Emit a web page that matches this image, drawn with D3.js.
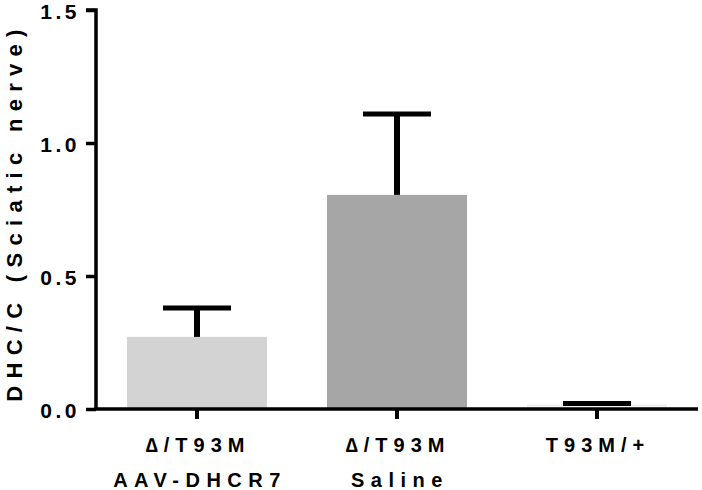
<!DOCTYPE html>
<html>
<head>
<meta charset="utf-8">
<script src="https://cdn.jsdelivr.net/npm/d3@7"></script>
<style>
  body { margin: 0; background: #fff; }
  text { font-family: Arial, "Liberation Sans", sans-serif; font-weight: bold; }
</style>
</head>
<body>
<div id="graphe"></div>
<script>
//----------------------------------------------------------------
// données
var groupes = ["AAV", "Saline", "WT"];
var ligne1 = ["\u2206/T93M", "\u2206/T93M", "T93M/+"];
var ligne2 = ["AAV-DHCR7", "Saline", ""];
var moyennes = [0.271, 0.805, 0.018];
var erreurs = [0.109, 0.304, 0.003];
var couleurs = ["#d3d3d3", "#a6a6a6", "#f0f0f0"];
var ticksY = [0, 0.5, 1.0, 1.5];

//----------------------------------------------------------------
// crée le svg
var largeur = 702, hauteur = 490;
var svg = d3.select("#graphe")
  .append("svg")
  .attr("width", largeur)
  .attr("height", hauteur);

var x = d3.scaleBand()
  .domain(groupes)
  .range([97, 697])
  .paddingInner(0.3)
  .paddingOuter(0.15);

var y = d3.scaleLinear()
  .domain([0, 1.5])
  .range([409, 10]);

//----------------------------------------------------------------
// barres
svg.selectAll(".barre")
  .data(groupes)
  .enter()
  .append("rect")
  .attr("class", "barre")
  .attr("x", function(d){ return x(d); })
  .attr("width", x.bandwidth())
  .attr("y", function(d, i){ return y(moyennes[i]); })
  .attr("height", function(d, i){ return y(0) - y(moyennes[i]); })
  .attr("fill", function(d, i){ return couleurs[i]; });

// barres d'erreur (seulement vers le haut)
var demiCap = 34;
var err = svg.selectAll(".err")
  .data(groupes)
  .enter()
  .append("g")
  .attr("class", "err");
err.append("line")
  .attr("x1", function(d){ return x(d) + x.bandwidth() / 2; })
  .attr("x2", function(d){ return x(d) + x.bandwidth() / 2; })
  .attr("y1", function(d, i){ return y(moyennes[i]); })
  .attr("y2", function(d, i){ return y(moyennes[i] + erreurs[i]); })
  .attr("stroke", "#000")
  .attr("stroke-width", 6);
err.append("line")
  .attr("x1", function(d){ return x(d) + x.bandwidth() / 2 - demiCap; })
  .attr("x2", function(d){ return x(d) + x.bandwidth() / 2 + demiCap; })
  .attr("y1", function(d, i){ return y(moyennes[i] + erreurs[i]); })
  .attr("y2", function(d, i){ return y(moyennes[i] + erreurs[i]); })
  .attr("stroke", "#000")
  .attr("stroke-width", 5);

//----------------------------------------------------------------
// axe Y
var axeY = svg.append("g")
  .attr("transform", "translate(96,0)")
  .call(d3.axisLeft(y).tickValues(ticksY).tickFormat(d3.format(".1f")).tickSize(10).tickPadding(6));
axeY.select(".domain").attr("stroke-width", 3.5).attr("d", "M-10,10H0V410");
axeY.selectAll(".tick line").attr("stroke-width", 3.5);
axeY.selectAll(".tick text")
  .attr("font-size", 21)
  .attr("letter-spacing", 3.5)
  .attr("dy", "0.4em")
  .attr("font-weight", "bold")
  .attr("fill", "#000")
  .attr("font-family", "Arial, 'Liberation Sans', sans-serif");

// axe X
var axeX = svg.append("g")
  .attr("transform", "translate(0,409)")
  .call(d3.axisBottom(x).tickSize(10).tickFormat(""));
axeX.select(".domain").attr("stroke-width", 3.5).attr("d", "M94,0H698");
axeX.selectAll(".tick line").attr("stroke-width", 4);

// étiquettes en deux lignes
svg.selectAll(".lab1")
  .data(groupes)
  .enter()
  .append("text")
  .attr("x", function(d){ return x(d) + x.bandwidth() / 2 + 1; })
  .attr("y", 452)
  .attr("text-anchor", "middle")
  .attr("font-size", 20)
  .attr("letter-spacing", 6)
  .text(function(d, i){ return ligne1[i]; });
svg.selectAll(".lab2")
  .data(groupes)
  .enter()
  .append("text")
  .attr("x", function(d){ return x(d) + x.bandwidth() / 2 + 3; })
  .attr("y", 487)
  .attr("text-anchor", "middle")
  .attr("font-size", 20)
  .attr("letter-spacing", 6.5)
  .text(function(d, i){ return ligne2[i]; });

// titre Y
svg.append("text")
  .attr("transform", "translate(22,212) rotate(-90)")
  .attr("text-anchor", "middle")
  .attr("font-size", 22)
  .attr("letter-spacing", 7.3)
  .text("DHC/C (Sciatic nerve)");
</script>
</body>
</html>
